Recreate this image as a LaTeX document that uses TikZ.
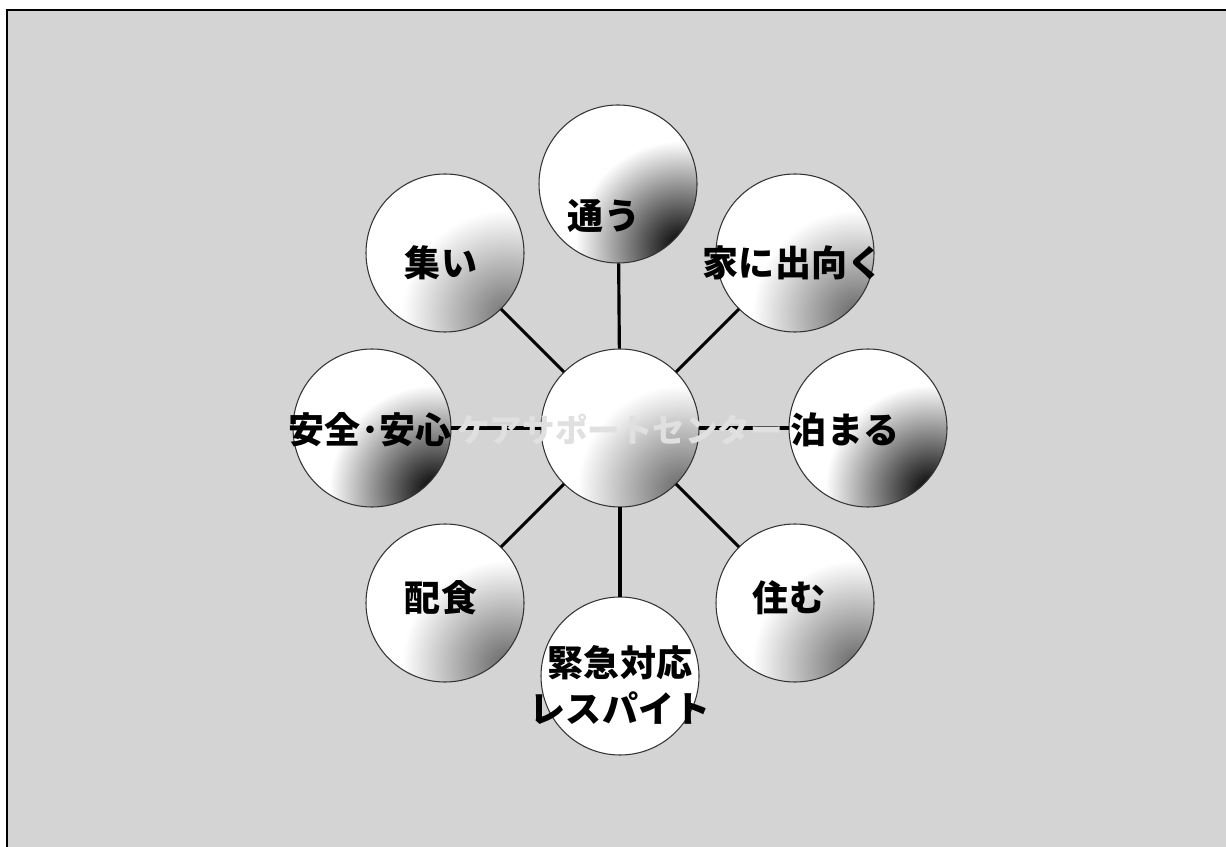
\documentclass[tikz,border=0pt]{standalone}
\usepackage{fontspec}
\newfontfamily\jp{Noto Sans CJK JP}
\tikzset{
  ballnode/.style={circle, minimum size=3.16cm, inner sep=0pt, fill=white},
  ballline/.style={draw=black!80, line width=0.6pt},
  conn/.style={line width=1.8pt, black},
  lbl/.style={font=\jp\bfseries\fontsize{20.5pt}{26pt}\selectfont, text=black, inner sep=0pt, align=center},
  clbl/.style={lbl, font=\jp\bfseries\fontsize{18.5pt}{24pt}\selectfont, text=black!12},
}
\newcommand\myball[4]{% name, x, y, shade colour
  \node[ballnode] (#1) at (#2,#3) {};
  \begin{scope}
    \clip (#2,#3) circle (79);
    \shade[inner color=#4, outer color=white] (#2+62,#3+62) circle (105);
  \end{scope}
  \draw[ballline] (#2,#3) circle (79);
}
\begin{document}
\begin{tikzpicture}[x=0.02cm, y=-0.02cm]
  \useasboundingbox (0,0) rectangle (1226,847);
  \fill[white] (0,0) rectangle (1226,847);
  \fill[black!17] (7,10) rectangle (1226,847);
  \draw[line width=1.2pt] (1226,10) -- (7,10) -- (7,847);

  \myball{c}{620}{428}{black!60}
  \myball{n}{618}{184}{black}
  \myball{ne}{795}{253}{black!60}
  \myball{e}{868}{428}{black}
  \myball{se}{795}{603}{black!60}
  \myball{s}{620}{676}{white}
  \myball{sw}{445}{603}{black!60}
  \myball{w}{372}{428}{black}
  \myball{nw}{445}{253}{black!55}

  \foreach \k in {n,ne,e,se,s,sw,w,nw} \draw[conn] (c) -- (\k);

  \node[lbl] (tn) at (604,216) {通う};
  \node[lbl] (tnw) at (441,263) {集い};
  \node[lbl] (tne) at (793,263) {家に出向く};
  \node[clbl] (tc) at (620,430) {ケアサポートセンター};
  \node[lbl] (tw) at (370,430) {安全･安心};
  \node[lbl] (te) at (845,430) {泊まる};
  \node[lbl] (tsw) at (441,598) {配食};
  \node[lbl] (tse) at (789,598) {住む};
  \node[lbl] (ts) at (620,685) {緊急対応\\レスパイト};
\end{tikzpicture}
\end{document}
